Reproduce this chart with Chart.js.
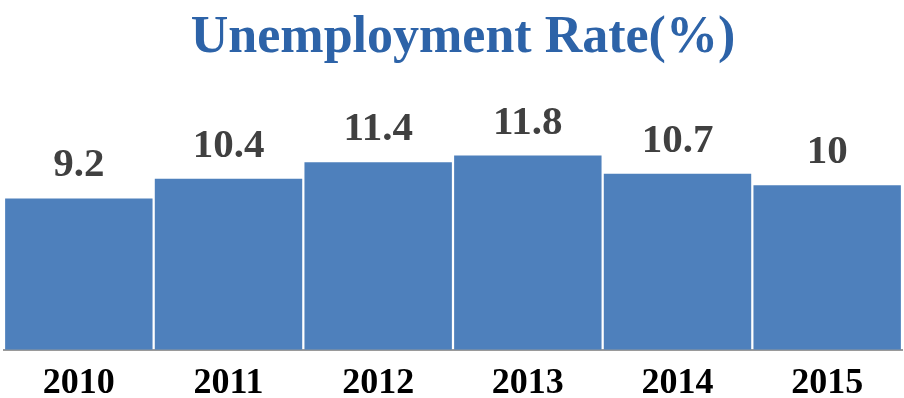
<!DOCTYPE html>
<html>
<head>
<meta charset="utf-8">
<script src="https://cdn.jsdelivr.net/npm/chart.js@4/dist/chart.umd.min.js"></script>
<style>
  html, body { margin: 0; padding: 0; background: #fff; }
  #wrap { width: 904px; height: 398px; position: relative; }
</style>
</head>
<body>
<div id="wrap"><canvas id="myChart"></canvas></div>
<script>
// data
const years = ['2010', '2011', '2012', '2013', '2014', '2015'];
const rates = [9.2, 10.4, 11.4, 11.8, 10.7, 10];
const chartTitle = 'Unemployment Rate(%)';

const serif = "'Liberation Serif', 'Times New Roman', serif";

// draws the value above each bar
const valueLabels = {
    id: 'valueLabels',
    afterDatasetsDraw(chart) {
        const ctx = chart.ctx;
        const meta = chart.getDatasetMeta(0);
        ctx.save();
        ctx.font = 'bold 41px ' + serif;
        ctx.fillStyle = '#404040';
        ctx.textAlign = 'center';
        ctx.textBaseline = 'alphabetic';
        meta.data.forEach((bar, i) => {
            ctx.fillText(String(rates[i]), bar.x, bar.y - 22);
        });
        ctx.restore();
    }
};

// title, sits a little right of centre like the original
const topTitle = {
    id: 'topTitle',
    afterDraw(chart) {
        const ctx = chart.ctx;
        ctx.save();
        ctx.font = 'bold 52px ' + serif;
        ctx.fillStyle = '#2D63A8';
        ctx.textAlign = 'center';
        ctx.textBaseline = 'alphabetic';
        ctx.fillText(chartTitle, chart.width / 2 + 11, 52);
        ctx.restore();
    }
};

const ctx = document.getElementById('myChart').getContext('2d');
new Chart(ctx, {
    type: 'bar',
    data: {
        labels: years,
        datasets: [{
            label: 'Rate',
            data: rates,
            backgroundColor: '#4E80BC',
            barPercentage: 0.985,
            categoryPercentage: 1
        }]
    },
    options: {
        responsive: true,
        maintainAspectRatio: false,
        animation: false,
        layout: { padding: { left: 4, right: 2, top: 70, bottom: -11 } },
        plugins: {
            legend: { display: false },
            tooltip: { enabled: false },
            title: { display: false }
        },
        scales: {
            x: {
                grid: { display: false },
                border: { color: '#9a9a9a', width: 2 },
                ticks: {
                    color: '#000',
                    font: { family: serif, size: 36, weight: 'bold', lineHeight: 1.2 },
                    padding: 4
                }
            },
            y: {
                display: false,
                min: 0,
                max: 17
            }
        }
    },
    plugins: [valueLabels, topTitle]
});
</script>
</body>
</html>
